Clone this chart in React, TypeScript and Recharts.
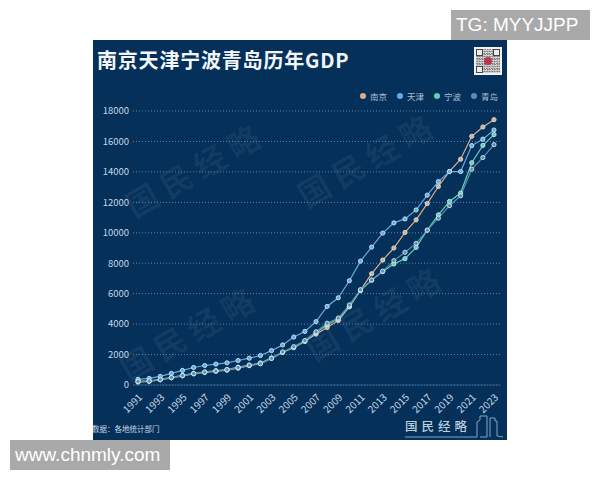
import { LineChart, Line, XAxis, YAxis, CartesianGrid, Legend } from 'recharts';

const years = ['1991', '1992', '1993', '1994', '1995', '1996', '1997', '1998', '1999', '2000', '2001', '2002', '2003', '2004', '2005', '2006', '2007', '2008', '2009', '2010', '2011', '2012', '2013', '2014', '2015', '2016', '2017', '2018', '2019', '2020', '2021', '2022', '2023'];
const nanjing = [190, 235, 340, 470, 600, 730, 820, 900, 970, 1100, 1270, 1400, 1750, 2140, 2480, 2880, 3340, 3780, 4230, 5130, 6230, 7310, 8210, 9000, 10020, 10850, 11920, 13040, 14030, 14830, 16340, 16950, 17430];
const tianjin = [370, 435, 565, 760, 957, 1150, 1280, 1370, 1456, 1610, 1760, 1935, 2260, 2630, 3150, 3520, 4160, 5160, 5730, 6850, 8140, 9060, 9980, 10650, 10910, 11500, 12470, 13360, 14020, 14020, 15730, 16150, 16750];
const ningbo = [240, 270, 370, 500, 640, 770, 860, 940, 1020, 1170, 1310, 1450, 1780, 2150, 2450, 2860, 3430, 3960, 4330, 5160, 6200, 6880, 7450, 7950, 8300, 9040, 10170, 11180, 12060, 12610, 14600, 15740, 16450];
const qingdao = [230, 260, 350, 490, 620, 750, 840, 920, 1000, 1150, 1300, 1400, 1750, 2170, 2520, 2920, 3500, 4060, 4400, 5260, 6260, 6900, 7480, 8170, 8720, 9300, 10170, 10960, 11780, 12430, 14180, 14940, 15790];
const yTicks = [0, 2000, 4000, 6000, 8000, 10000, 12000, 14000, 16000, 18000];

const rows = years.map((year, i) => ({
    year,
    南京: nanjing[i],
    天津: tianjin[i],
    宁波: ningbo[i],
    青岛: qingdao[i],
}));

const series = [
    { name: '南京', color: '#dcae88' },
    { name: '天津', color: '#62ace2' },
    { name: '宁波', color: '#62d0b8' },
    { name: '青岛', color: '#5b8fb0' },
];

const CJK = '"Noto Sans CJK SC", sans-serif';

// faint diagonal watermarks behind the chart
const watermarks = [
    { left: 24, top: 105 },
    { left: 196, top: 95 },
    { left: 18, top: 268 },
    { left: 204, top: 248 },
];

const finders = [
    { left: 2, top: 2 },
    { left: 19, top: 2 },
    { left: 2, top: 19 },
];

const greyBox = {
    position: 'absolute',
    background: '#a9a9a9',
    color: '#fff',
    fontFamily: '"Liberation Sans", sans-serif',
    fontSize: 19,
    lineHeight: '30px',
    height: 30,
    whiteSpace: 'nowrap',
} as const;

const App = () => {
    return (
        <div style={{ position: 'absolute', left: 0, top: 0, width: 600, height: 480, background: '#fff', overflow: 'hidden' }}>
            <div style={{ position: 'absolute', left: 93, top: 40, width: 414, height: 400, background: '#04305a', overflow: 'hidden', fontFamily: CJK }}>
                {watermarks.map((m, i) => (
                    <div
                        key={i}
                        style={{
                            position: 'absolute',
                            left: m.left,
                            top: m.top,
                            width: 156,
                            fontSize: 32,
                            fontWeight: 700,
                            letterSpacing: 7,
                            whiteSpace: 'nowrap',
                            color: 'rgba(255,255,255,0.06)',
                            transform: 'rotate(-30deg)',
                        }}
                    >
                        国民经略
                    </div>
                ))}

                <div style={{ position: 'absolute', left: 4, top: 6, fontSize: 20, fontWeight: 700, lineHeight: '27px', letterSpacing: 0.8, color: '#f4f7fa', whiteSpace: 'nowrap' }}>
                    南京天津宁波青岛历年GDP
                </div>

                {/* QR code block */}
                <div style={{ position: 'absolute', left: 381, top: 7, width: 28, height: 28, background: '#f2f2f2' }}>
                    <div
                        style={{
                            position: 'absolute',
                            inset: 2,
                            backgroundImage: 'repeating-conic-gradient(#6a6a6a 0 25%, #e8e8e8 0 50%)',
                            backgroundSize: '2.5px 2.5px',
                        }}
                    />
                    {finders.map((f, i) => (
                        <div key={i} style={{ position: 'absolute', left: f.left, top: f.top, width: 7, height: 7, border: '1.5px solid #444', background: '#eee', boxSizing: 'border-box' }} />
                    ))}
                    <div style={{ position: 'absolute', left: 10, top: 10, width: 8, height: 8, borderRadius: 4, background: '#b8384f' }} />
                </div>

                <LineChart
                    width={414}
                    height={400}
                    data={rows}
                    margin={{ top: 56, right: 7, bottom: 0, left: 0 }}
                    style={{ position: 'absolute', left: 0, top: 0 }}
                >
                    <CartesianGrid vertical={false} stroke="#5f84a6" strokeDasharray="1 2" />
                    <XAxis
                        dataKey="year"
                        interval={1}
                        height={55}
                        padding={{ left: 5, right: 6 }}
                        axisLine={{ stroke: '#2c5780' }}
                        tickLine={false}
                        angle={-45}
                        textAnchor="end"
                        tick={{ fill: '#c8d6e3', fontSize: 10, fontFamily: CJK }}
                    />
                    <YAxis
                        width={40}
                        domain={[0, 18000]}
                        ticks={yTicks}
                        axisLine={false}
                        tickLine={false}
                        tickSize={0}
                        tickMargin={4}
                        tick={{ fill: '#c8d6e3', fontSize: 9.5, fontFamily: CJK }}
                    />
                    <Legend
                        verticalAlign="top"
                        align="right"
                        iconType="circle"
                        iconSize={6}
                        formatter={(value) => <span style={{ color: '#aebfd0', fontSize: 8.5, fontFamily: CJK }}>{value}</span>}
                        wrapperStyle={{ top: 47, right: -1, width: 'auto', left: 'auto', lineHeight: '12px' }}
                    />
                    {series.map((s) => (
                        <Line
                            key={s.name}
                            dataKey={s.name}
                            stroke={s.color}
                            strokeWidth={1.2}
                            dot={{ r: 2.1, fill: s.color, stroke: '#d5e4ee', strokeWidth: 0.9 }}
                            isAnimationActive={false}
                        />
                    ))}
                </LineChart>

                <div style={{ position: 'absolute', left: -1, top: 383, fontSize: 7.5, lineHeight: '11px', color: '#c8d6e3', whiteSpace: 'nowrap' }}>
                    数据：各地统计部门
                </div>

                {/* logo, bottom right */}
                <div style={{ position: 'absolute', left: 312, top: 378, fontSize: 12.5, fontWeight: 500, letterSpacing: 4, lineHeight: '16px', color: '#bccddc', whiteSpace: 'nowrap' }}>
                    国民经略
                </div>
                <svg width={414} height={400} style={{ position: 'absolute', left: 0, top: 0 }}>
                    <path d="M312 397H384V382L387 380V376H394V397H387M397 397V378H402V381H404V396L410 397" fill="none" stroke="#7ea6c6" strokeWidth={1} />
                </svg>
            </div>

            <div style={{ ...greyBox, left: 451, top: 10, width: 139, paddingLeft: 5, boxSizing: 'border-box' }}>TG: MYYJJPP</div>
            <div style={{ ...greyBox, left: 10, top: 440, width: 160, paddingLeft: 5, boxSizing: 'border-box' }}>www.chnmly.com</div>
        </div>
    );
};

export default App;
